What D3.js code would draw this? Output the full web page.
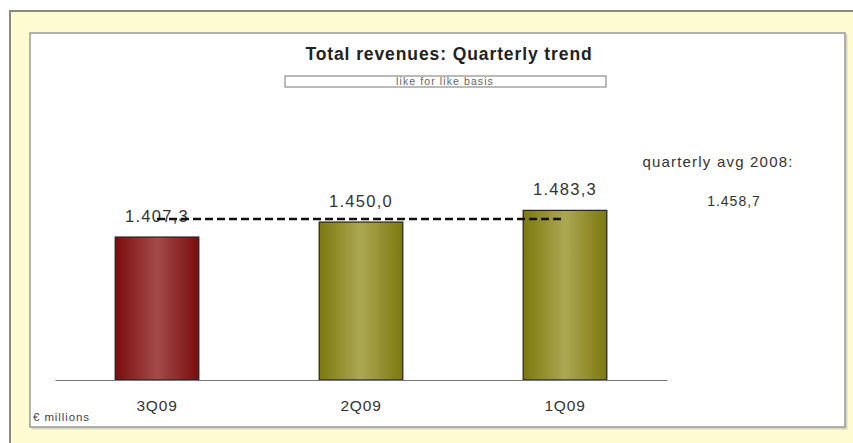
<!DOCTYPE html>
<html>
<head>
<meta charset="utf-8">
<script src="https://cdn.jsdelivr.net/npm/d3@7"></script>
<style>
  html, body { margin: 0; padding: 0; background: #ffffff; }
  svg { display: block; font-family: "Liberation Sans", Arial, sans-serif; }
</style>
</head>
<body>
<svg id="chart" width="853" height="443"></svg>
<script>
// Quarterly totals, € millions
const quarters = ["3Q09", "2Q09", "1Q09"];
const revenues = [1407.3, 1450.0, 1483.3];
const barColors = ["red", "olive"]; // first quarter red, the rest olive
const avg2008 = 1458.7;
const yDomain = [1000, 1500];

const fmt = v => {
  const s = v.toFixed(1).split(".");
  return s[0].replace(/\B(?=(\d{3})+(?!\d))/g, ".") + "," + s[1];
};

const svg = d3.select("#chart");

// gradients: dark edges, lighter middle
const defs = svg.append("defs");
const grads = {
  red: ["#7a0d0d", "#a54a4a"],
  olive: ["#7c790f", "#aca752"]
};
Object.entries(grads).forEach(([k, [edge, mid]]) => {
  const g = defs.append("linearGradient").attr("id", "g-" + k)
    .attr("x1", "0%").attr("x2", "100%").attr("y1", "0%").attr("y2", "0%");
  g.append("stop").attr("offset", "0%").attr("stop-color", edge);
  g.append("stop").attr("offset", "50%").attr("stop-color", mid);
  g.append("stop").attr("offset", "100%").attr("stop-color", edge);
});

// outer yellow frame
svg.append("rect").attr("x", 10).attr("y", 11).attr("width", 860).attr("height", 460)
  .attr("fill", "#fffbd0").attr("stroke", "#8a8a80").attr("stroke-width", 2);
// inner white panel with soft shadow
svg.append("rect").attr("x", 31.5).attr("y", 34.5).attr("width", 816).attr("height", 395)
  .attr("fill", "#d8d8c8");
svg.append("rect").attr("x", 30).attr("y", 33).attr("width", 815).attr("height", 394)
  .attr("fill", "#ffffff").attr("stroke", "#9a9a9a").attr("stroke-width", 1.5);

// title
svg.append("text").attr("x", 449).attr("y", 60).attr("text-anchor", "middle")
  .attr("font-size", 17.5).attr("font-weight", "bold").attr("fill", "#222")
  .attr("letter-spacing", 0.9).text("Total revenues: Quarterly trend");
svg.append("rect").attr("x", 285).attr("y", 76).attr("width", 321).attr("height", 11)
  .attr("fill", "#fff").attr("stroke", "#777").attr("stroke-width", 1);
svg.append("text").attr("x", 445).attr("y", 84.5).attr("text-anchor", "middle")
  .attr("font-size", 10.5).attr("fill", "#666").attr("letter-spacing", 1.1)
  .text("like for like basis");

// scales
const x = d3.scaleBand().domain(quarters).range([55, 667])
  .paddingInner(0.59).paddingOuter(0.295);
const y = d3.scaleLinear().domain(yDomain).range([380, 204.5]);

// bars
svg.selectAll("rect.bar").data(quarters).join("rect").attr("class", "bar")
  .attr("x", d => x(d)).attr("width", x.bandwidth())
  .attr("y", (d, i) => y(revenues[i]))
  .attr("height", (d, i) => y(yDomain[0]) - y(revenues[i]))
  .attr("fill", (d, i) => `url(#g-${barColors[Math.min(i, 1)]})`)
  .attr("stroke", "#222").attr("stroke-width", 1.2);

// baseline
const xAxis = d3.axisBottom(x).tickSize(0).tickPadding(20);
const ax = svg.append("g").attr("transform", `translate(0,${y(yDomain[0])})`).call(xAxis);
ax.select(".domain").attr("stroke", "#777").attr("stroke-width", 1.2);
ax.selectAll("text").attr("font-size", 15.5).attr("fill", "#333")
  .attr("font-family", "Liberation Sans, Arial, sans-serif").attr("letter-spacing", 0.8);

// value labels
svg.selectAll("text.val").data(quarters).join("text").attr("class", "val")
  .attr("x", d => x(d) + x.bandwidth() / 2)
  .attr("y", (d, i) => y(revenues[i]) - 15)
  .attr("text-anchor", "middle").attr("font-size", 16.5).attr("letter-spacing", 1.3)
  .attr("fill", "#333").text((d, i) => fmt(revenues[i]));

// 2008 quarterly average
const x0 = x(quarters[0]) + x.bandwidth() / 2;
const x1 = x(quarters[quarters.length - 1]) + x.bandwidth() / 2 - 4;
svg.append("line").attr("x1", x0).attr("x2", x1)
  .attr("y1", y(avg2008)).attr("y2", y(avg2008))
  .attr("stroke", "#111").attr("stroke-width", 2.5).attr("stroke-dasharray", "8,4");

svg.append("text").attr("x", 718).attr("y", 167).attr("text-anchor", "middle")
  .attr("font-size", 15).attr("fill", "#333").attr("letter-spacing", 1.2)
  .text("quarterly avg 2008:");
svg.append("text").attr("x", 734).attr("y", 206).attr("text-anchor", "middle")
  .attr("font-size", 14).attr("fill", "#333").attr("letter-spacing", 1)
  .text(fmt(avg2008));

// units note
svg.append("text").attr("x", 33).attr("y", 421).attr("font-size", 11.5)
  .attr("fill", "#444").attr("letter-spacing", 0.9).text("€ millions");
</script>
</body>
</html>
